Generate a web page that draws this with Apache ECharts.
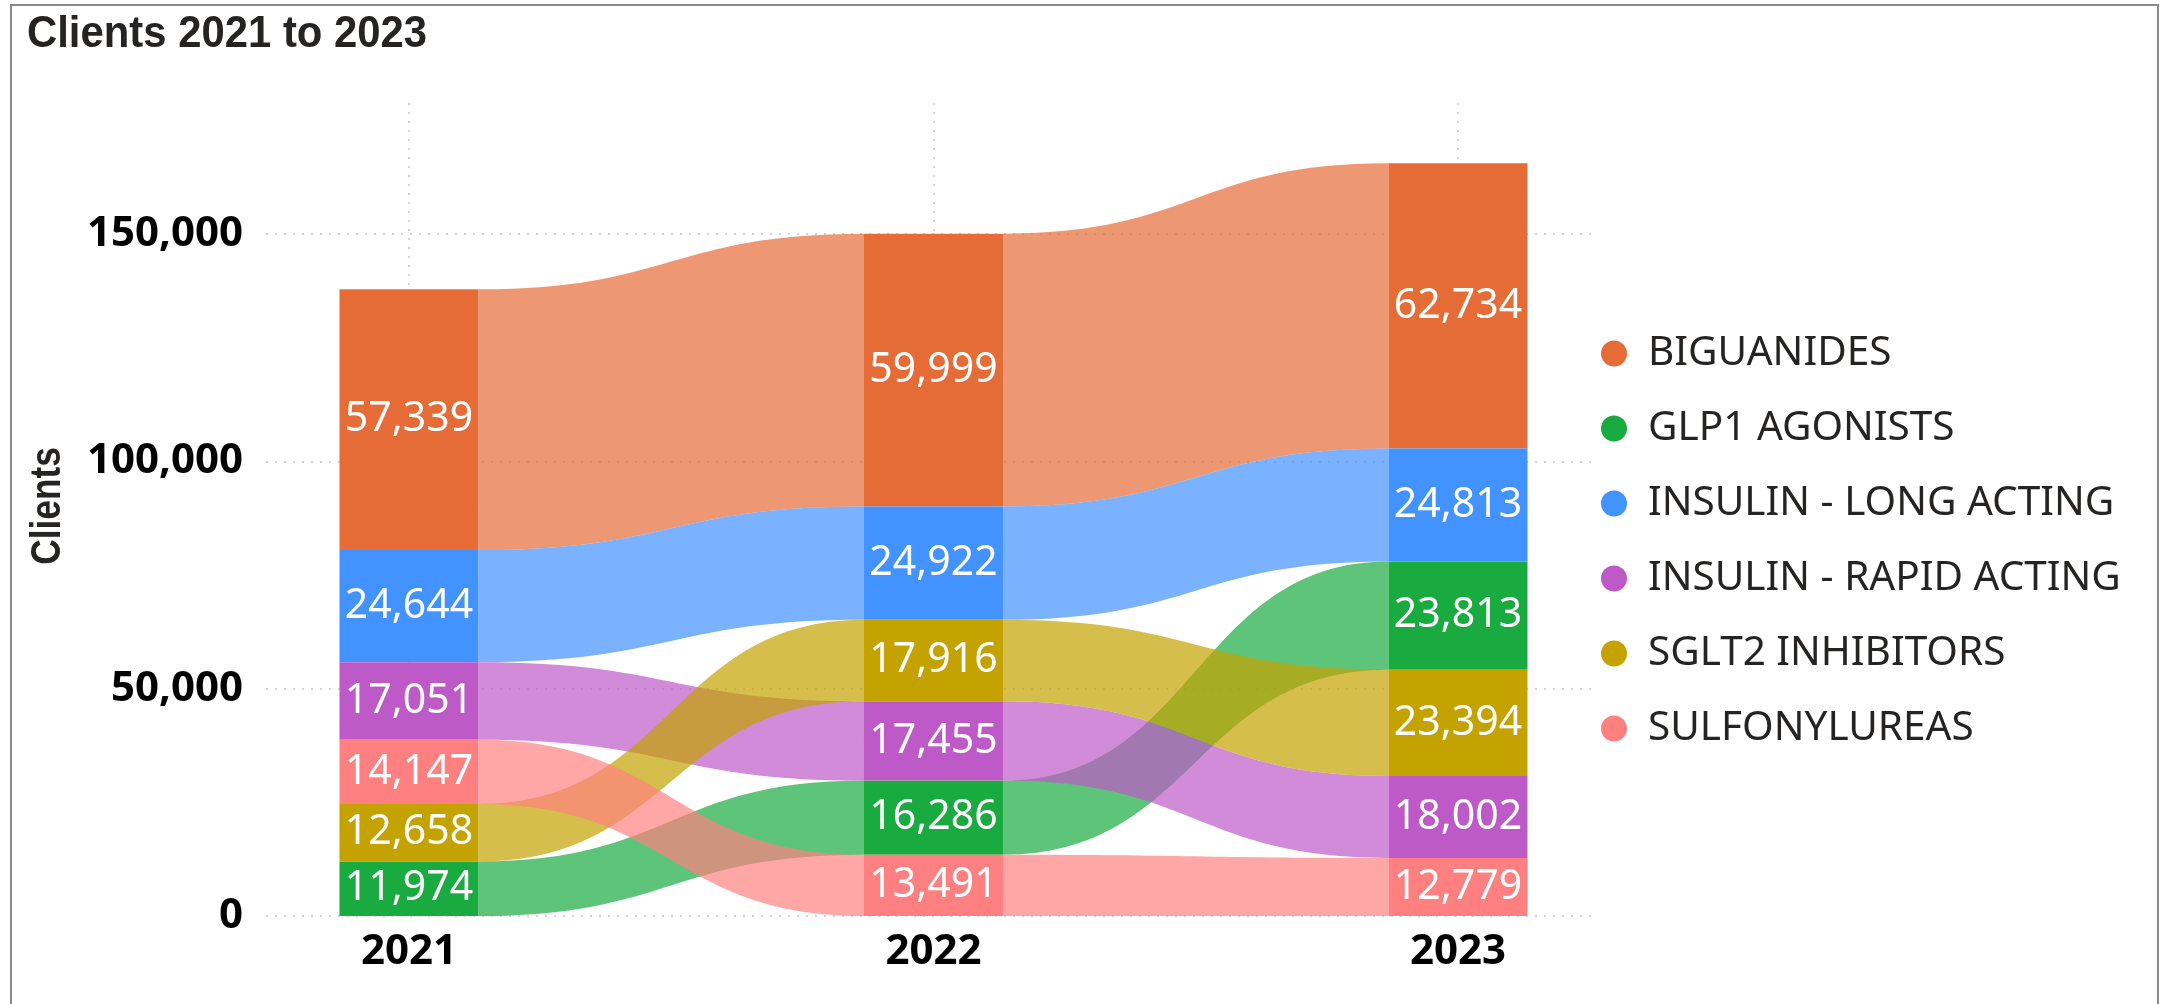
<!DOCTYPE html>
<html><head><meta charset="utf-8">
<script src="https://cdn.jsdelivr.net/npm/echarts@6/dist/echarts.min.js"></script>
<style>html,body{margin:0;padding:0;background:#fff}#chart{width:2163px;height:1004px}</style>
</head><body><div id="chart"></div>
<script>
// ---- data ----
const years = ['2021', '2022', '2023'];
const drugs = ['BIGUANIDES', 'GLP1 AGONISTS', 'INSULIN - LONG ACTING', 'INSULIN - RAPID ACTING', 'SGLT2 INHIBITORS', 'SULFONYLUREAS'];
const biguanides    = [57339, 59999, 62734];
const glp1Agonists  = [11974, 16286, 23813];
const insulinLong   = [24644, 24922, 24813];
const insulinRapid  = [17051, 17455, 18002];
const sglt2         = [12658, 17916, 23394];
const sulfonylureas = [14147, 13491, 12779];
const yTicks = [0, 50000, 100000, 150000];
const titleText = 'Clients 2021 to 2023';
const yAxisTitle = 'Clients';

const values = [biguanides, glp1Agonists, insulinLong, insulinRapid, sglt2, sulfonylureas];
const colors = ['#E66C37', '#1AAB40', '#4292FF', '#BE5AC7', '#C4A200', '#FF8080'];

// ribbon-chart stacking: per year, smallest value at the bottom
const bottoms = values.map(() => []);
const tops = values.map(() => []);
years.forEach((y, j) => {
  const order = values.map((v, s) => s).sort((a, b) => values[a][j] - values[b][j]);
  let acc = 0;
  order.forEach(s => { bottoms[s][j] = acc; acc += values[s][j]; tops[s][j] = acc; });
});

const HALF_BAR = 0.1325;
const fmt = v => Math.round(v).toLocaleString('en-US');
const gridLine = { show: true, lineStyle: { color: '#C8C6C4', type: [2, 7], width: 1.5 } };

function makeRender(s) {
  return function (params, api) {
    const j = api.value(0), b = api.value(1), t = api.value(2), v = api.value(3);
    const children = [];
    if (j < years.length - 1) {
      const n = j + 1;
      const a1 = api.coord([j + HALF_BAR, t]);
      const a2 = api.coord([n - HALF_BAR, tops[s][n]]);
      const a3 = api.coord([n - HALF_BAR, bottoms[s][n]]);
      const a4 = api.coord([j + HALF_BAR, b]);
      const mx = (a1[0] + a2[0]) / 2;
      const d = 'M' + a1[0] + ' ' + a1[1] +
        ' C' + mx + ' ' + a1[1] + ' ' + mx + ' ' + a2[1] + ' ' + a2[0] + ' ' + a2[1] +
        ' L' + a3[0] + ' ' + a3[1] +
        ' C' + mx + ' ' + a3[1] + ' ' + mx + ' ' + a4[1] + ' ' + a4[0] + ' ' + a4[1] + ' Z';
      children.push({ type: 'path', shape: { pathData: d }, style: { fill: colors[s], opacity: 0.7 } });
    }
    const p0 = api.coord([j - HALF_BAR, t]);
    const p1 = api.coord([j + HALF_BAR, b]);
    children.push({ type: 'rect', shape: { x: p0[0], y: p0[1], width: p1[0] - p0[0], height: p1[1] - p0[1] }, style: { fill: colors[s] } });
    children.push({ type: 'text', x: (p0[0] + p1[0]) / 2, y: (p0[1] + p1[1]) / 2, z2: 10,
      style: { text: fmt(v), fill: '#ffffff', fontSize: 41, fontFamily: 'Noto Sans', align: 'center', verticalAlign: 'middle' } });
    return { type: 'group', children: children };
  };
}

const series = drugs.map((name, s) => ({
  name: name,
  type: 'custom',
  coordinateSystem: 'cartesian2d',
  itemStyle: { color: colors[s] },
  encode: { x: 0, y: [1, 2] },
  data: years.map((y, j) => [j, bottoms[s][j], tops[s][j], values[s][j]]),
  renderItem: makeRender(s)
}));

const chart = echarts.init(document.getElementById('chart'), null, { renderer: 'canvas' });
chart.setOption({
  backgroundColor: '#ffffff',
  animation: false,
  graphic: [
    { type: 'rect', shape: { x: 11, y: 5, width: 2147, height: 1030 }, style: { fill: 'none', stroke: '#8A8A8A', lineWidth: 2 } },
    { type: 'text', x: 27, y: 35, scaleX: 0.93,
      style: { text: titleText, fontSize: 45, fontWeight: 'bold', fontFamily: 'Liberation Sans', fill: '#252423', align: 'left', verticalAlign: 'middle' } },
    { type: 'text', x: 48, y: 506, rotation: Math.PI / 2, scaleX: 0.84,
      style: { text: yAxisTitle, fontSize: 42, fontWeight: 'bold', fontFamily: 'Liberation Sans', fill: '#252423', align: 'center', verticalAlign: 'middle' } }
  ],
  legend: {
    data: drugs, orient: 'vertical', left: 1601, top: 333, padding: 0,
    icon: 'circle', itemWidth: 58, itemHeight: 26, itemGap: 34, selectedMode: false,
    textStyle: { fontSize: 40.5, lineHeight: 40, fontFamily: 'Noto Sans', color: '#252423' }
  },
  grid: { left: 266, right: 572, top: 103, bottom: 88, containLabel: false, outerBoundsMode: 'none' },
  xAxis: {
    type: 'value', min: -0.2726, max: 2.2536,
    axisLine: { show: false }, axisTick: { show: false, customValues: [0, 1, 2] },
    axisLabel: { customValues: [0, 1, 2], formatter: v => years[Math.round(v)], fontSize: 42, fontWeight: 'bold', fontFamily: 'Noto Sans', color: '#000', margin: 15 },
    splitLine: gridLine
  },
  yAxis: {
    type: 'value', min: 0, max: 178800,
    axisLine: { show: false }, axisTick: { show: false, customValues: yTicks },
    axisLabel: { customValues: yTicks, formatter: fmt, fontSize: 42, fontWeight: 'bold', fontFamily: 'Noto Sans', color: '#000', margin: 23 },
    splitLine: gridLine
  },
  series: series
});
</script>
</body></html>
